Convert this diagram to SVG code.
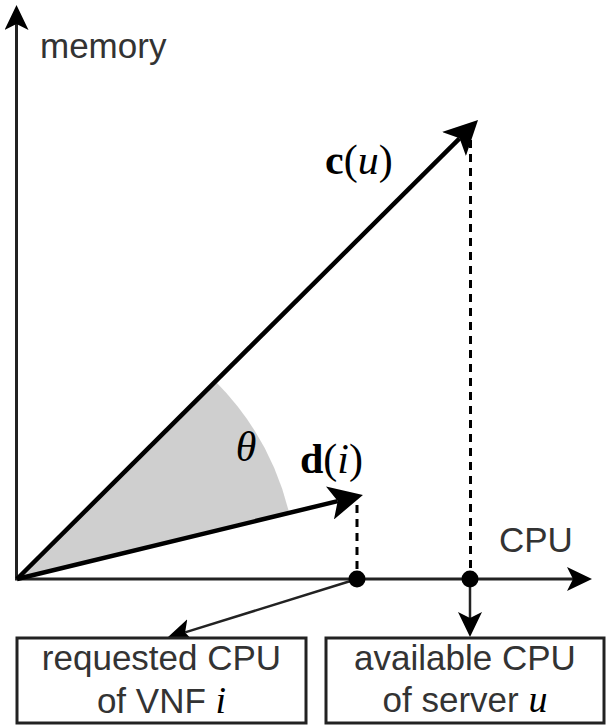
<svg xmlns="http://www.w3.org/2000/svg" width="606" height="728" viewBox="0 0 606 728">
  <style>
    .sans { font-family: "Liberation Sans", Arial, sans-serif; font-size: 35px; fill: #333333; }
    .math { font-family: "Liberation Serif", "Times New Roman", serif; font-size: 42px; fill: #000000; }
    .axis { stroke: #222222; stroke-width: 3; fill: none; }
    .vec { stroke: #000000; stroke-width: 4.5; fill: none; }
    .thin { stroke: #222222; stroke-width: 2.5; fill: none; }
    .dash { stroke: #000000; stroke-width: 3; stroke-dasharray: 8 6; fill: none; }
    .box { fill: #ffffff; stroke: #222222; stroke-width: 3; }
    .dot { fill: #000000; }
  </style>
  <defs>
    <marker id="headBig" markerUnits="userSpaceOnUse" viewBox="0 0 34 34" refX="8" refY="17" markerWidth="34" markerHeight="34" orient="auto">
      <path d="M0,0 L34,17 L0,34 L8,17 Z" fill="#000000"/>
    </marker>
    <marker id="headMid" markerUnits="userSpaceOnUse" viewBox="0 0 25 24" refX="6" refY="12" markerWidth="25" markerHeight="24" orient="auto">
      <path d="M0,0 L25,12 L0,24 L6,12 Z" fill="#000000"/>
    </marker>
  </defs>
  <rect width="606" height="728" fill="#ffffff"/>

  <g id="sector">
    <path d="M17,579 L215,381 A280,280 0 0 1 289.2,513.2 Z" fill="#cfcfcf"/>
  </g>

  <g id="connectors">
    <line class="axis" x1="16.5" y1="580" x2="16.5" y2="24" marker-end="url(#headMid)"/>
    <line class="axis" x1="15" y1="579" x2="573" y2="579" marker-end="url(#headMid)"/>
    <line class="vec" x1="17" y1="579" x2="459.6" y2="138.3" marker-end="url(#headBig)"/>
    <line class="vec" x1="17" y1="579" x2="337.7" y2="501.1" marker-end="url(#headBig)"/>
    <line class="dash" x1="470.5" y1="140" x2="470.5" y2="572"/>
    <line class="dash" x1="357" y1="505" x2="357" y2="572"/>
    <line class="thin" x1="357" y1="579" x2="185.1" y2="632.4" marker-end="url(#headMid)"/>
    <line class="thin" x1="470" y1="579" x2="470" y2="618" marker-end="url(#headMid)"/>
  </g>

  <g id="dots">
    <circle class="dot" cx="357" cy="579" r="8.5"/>
    <circle class="dot" cx="470" cy="579" r="8.5"/>
  </g>

  <g id="labels">
    <text class="sans" x="40" y="58">memory</text>
    <text class="sans" x="499" y="552">CPU</text>
    <text class="math" x="325" y="174"><tspan font-weight="bold">c</tspan>(<tspan font-style="italic">u</tspan>)</text>
    <text class="math" x="300" y="473"><tspan font-weight="bold">d</tspan>(<tspan font-style="italic">i</tspan>)</text>
    <text class="math" x="246" y="461" text-anchor="middle" font-style="italic">θ</text>
  </g>

  <g id="box-requested">
    <rect class="box" x="17" y="638" width="289" height="85"/>
    <text class="sans" x="161.5" y="670" text-anchor="middle">requested CPU</text>
    <text class="sans" x="161.5" y="713" text-anchor="middle">of VNF <tspan font-family="Liberation Serif, serif" font-style="italic" font-size="38" fill="#000">i</tspan></text>
  </g>

  <g id="box-available">
    <rect class="box" x="326" y="638" width="278" height="85"/>
    <text class="sans" x="465" y="670" text-anchor="middle">available CPU</text>
    <text class="sans" x="465" y="712" text-anchor="middle">of server <tspan font-family="Liberation Serif, serif" font-style="italic" font-size="38" fill="#000">u</tspan></text>
  </g>
</svg>
